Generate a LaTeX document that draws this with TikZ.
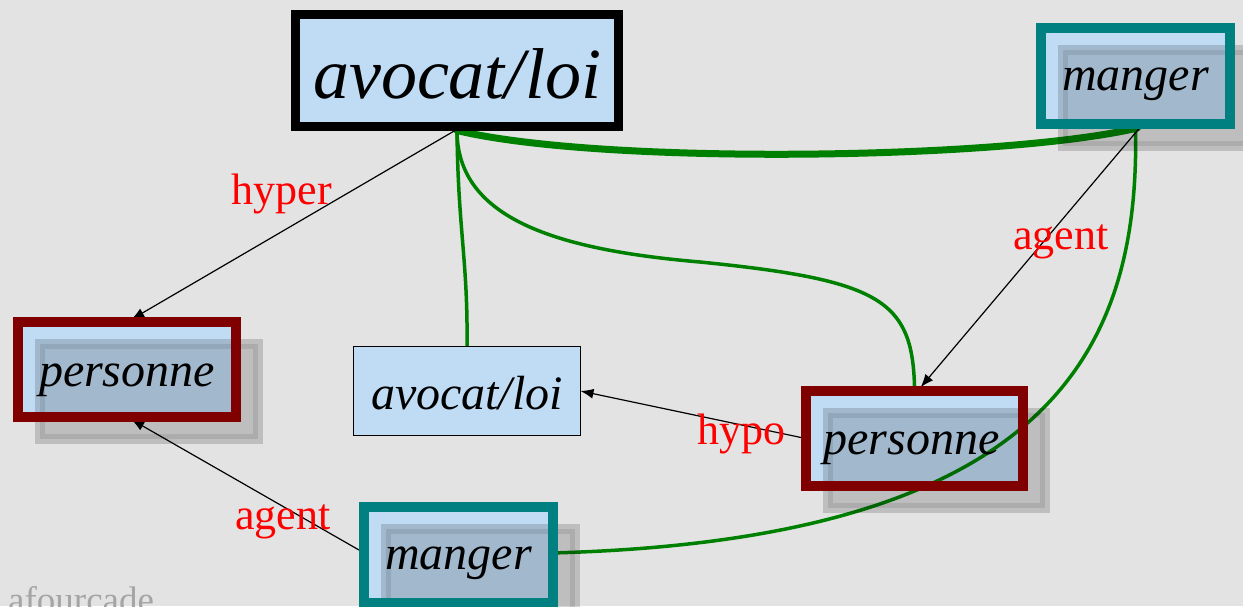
\documentclass[tikz,border=0pt]{standalone}
\usepackage{fontspec}
\setmainfont{Liberation Serif}
\usetikzlibrary{arrows.meta,calc}
\definecolor{bgc}{RGB}{227,227,227}
\definecolor{boxblue}{RGB}{192,220,245}
\definecolor{redb}{RGB}{128,0,0}
\definecolor{tealb}{RGB}{0,128,128}
\definecolor{grn}{RGB}{0,128,0}
\definecolor{lblred}{RGB}{255,0,0}
\definecolor{footgray}{RGB}{165,165,165}
\newcommand\myshadow[1]{%
  \fill[black,opacity=.16] ($(#1.north west)+(17,17)$) rectangle ($(#1.south east)+(27,27)$);
  \draw[black,opacity=.09,line width=5pt] ($(#1.north west)+(24.5,24.5)$) rectangle ($(#1.south east)+(19.5,19.5)$);
}
\begin{document}
\begin{tikzpicture}[x=1pt,y=-1pt,
  bx/.style={fill=boxblue,inner sep=0pt,outer sep=0pt},
  bigtxt/.style={font=\fontsize{72}{76}\selectfont\itshape,inner sep=0pt},
  smtxt/.style={font=\fontsize{48}{52}\selectfont\itshape,inner sep=0pt},
  lbl/.style={font=\fontsize{44}{48}\selectfont,text=lblred,inner sep=0pt},
  arr/.style={black,line width=1.2pt,-{Latex[length=13pt,width=10pt]}},
  gthin/.style={grn,line width=3.5pt},
  gthick/.style={grn,line width=7pt},
  redframe/.style={redb,line width=10pt},
  tealframe/.style={tealb,line width=10pt}]
\useasboundingbox (0,0) rectangle (1243,606);
\clip (0,0) rectangle (1243,606);
\fill[bgc] (0,0) rectangle (1243,606);
% box fills
\node[bx,minimum width=323pt,minimum height=112pt] (big) at (457,70.5) {};
\node[bx,minimum width=227pt,minimum height=89pt] (av) at (467,391) {};
\node[bx,minimum width=218pt,minimum height=95pt] (pL) at (127,369.5) {};
\node[bx,minimum width=217pt,minimum height=95pt] (pR) at (914.5,438.5) {};
\node[bx,minimum width=189pt,minimum height=96pt] (mT) at (1135.5,76) {};
\node[bx,minimum width=189pt,minimum height=96pt] (mB) at (458.5,555) {};
% green links
\draw[gthick,line cap=round] ($(big.south)+(0,4)$) .. controls (600,165) and (1000,160) .. ($(mT.south)+(2,4)$);
\draw[gthin] ($(big.south)+(0,4)$) .. controls (458,230) and (468,260) .. (av.north);
\draw[gthin] ($(big.south)+(0,4)$) .. controls (457,220) and (560,250) .. (700,262) .. controls (880,280) and (912,300) .. ($(pR.north)+(0,-5)$);
\draw[gthin] ($(mT.south)+(0,4)$) .. controls (1140,350) and (1050,540) .. ($(mB.east)+(-2,-2)$);
% black arrows
\draw[arr,shorten >=5pt] ($(big.south)+(-2,4)$) -- (pL.north);
\draw[arr,shorten >=5pt] ($(mT.south)+(4,4)$) -- ($(pR.north)+(3,0)$);
\draw[arr] ($(pR.west)+(-5,-1)$) -- (av.east);
\draw[arr,shorten >=5pt] ($(mB.west)+(-5,-5)$) -- (pL.south);
% labels
\node[lbl] (lhyper) at (282,194) {hyper};
\node[lbl] (lagent1) at (1061,242) {agent};
\node[lbl] (lhypo) at (741,434) {hypo};
\node[lbl] (lagent2) at (283,522) {agent};
% shadows
\myshadow{pL}
\myshadow{pR}
\myshadow{mT}
\myshadow{mB}
% frames
\draw[black,line width=9pt] (big.south west) rectangle (big.north east);
\draw[black,line width=1.5pt] (av.south west) rectangle (av.north east);
\draw[redframe] (pL.south west) rectangle (pL.north east);
\draw[redframe] (pR.south west) rectangle (pR.north east);
\draw[tealframe] (mT.south west) rectangle (mT.north east);
\draw[tealframe] (mB.south west) rectangle (mB.north east);
% texts
\node[bigtxt] (bigt) at ($(big)+(0,3)$) {avocat/loi};
\node[smtxt] (avt) at ($(av)+(0,2)$) {avocat/loi};
\node[smtxt] (pLt) at ($(pL)+(0,11)$) {personne};
\node[smtxt] (pRt) at ($(pR)+(-3,10)$) {personne};
\node[smtxt] (mTt) at ($(mT)+(0,8)$) {manger};
\node[smtxt] (mBt) at ($(mB)+(0,8)$) {manger};
\node[anchor=base west,font=\fontsize{37}{40}\selectfont,text=footgray,inner sep=0pt] (foot) at (8,612) {afourcade};
\end{tikzpicture}
\end{document}
